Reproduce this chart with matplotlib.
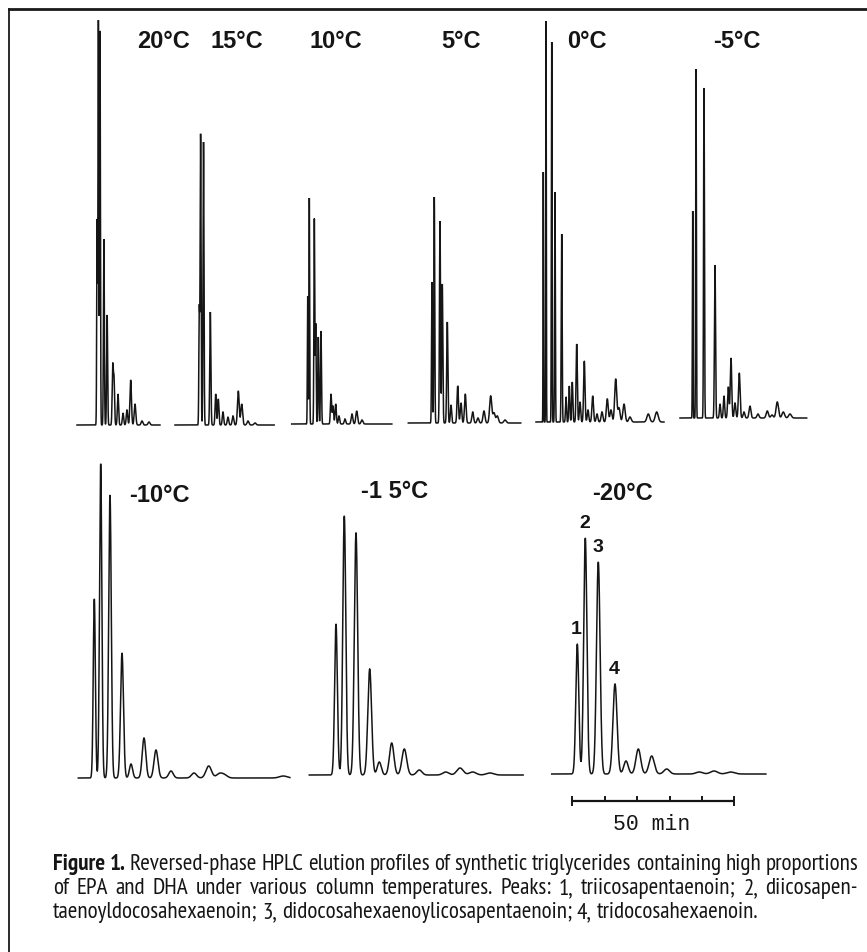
import numpy as np
import matplotlib
matplotlib.use("Agg")
import matplotlib.pyplot as plt
from matplotlib import font_manager as fm
from matplotlib.lines import Line2D

# ---------------- data ----------------
TEMPS = ["20°C", "15°C", "10°C", "5°C", "0°C", "-5°C", "-10°C", "-1 5°C", "-20°C"]
RUN_MIN = [25.6, 30.6, 30.9, 34.7, 39.5, 39.1, 65.3, 66.0, 66.1]   # recorded length, min

# retention time (min) and peak height (arbitrary response units)
RT_20 = [6.2, 6.6, 7.1, 8.3, 9.3, 11.02, 11.42, 12.65, 14.2, 15.43, 16.57, 17.9, 20.06, 22.22]
H_20 = [204, 404, 394, 186, 110, 58, 46, 31, 12, 15, 45, 21, 4, 3]

RT_15 = [7.5, 7.9, 8.8, 10.9, 12.56, 13.36, 14.81, 16.36, 17.9, 19.54, 20.59, 22.53, 24.7]
H_15 = [116, 290, 283, 113, 31, 26, 13, 8, 9, 34, 21, 4, 2]

RT_10 = [4.94, 5.43, 6.98, 7.41, 8.21, 9.04, 12.13, 12.75, 13.58, 14.6, 16.45, 18.61, 20.06, 21.7]
H_10 = [128, 226, 205, 100, 87, 93, 30, 18, 20, 8, 5, 10, 13, 4]

RT_5 = [7.31, 8.02, 9.78, 10.49, 12.04, 13.18, 15.25, 16.27, 17.59, 19.88, 21.51, 23.36, 25.43,
        26.45, 27.47, 29.85]
H_5 = [141, 226, 202, 139, 101, 18, 37, 20, 29, 11, 5, 12, 27, 10, 7, 3]

RT_0 = [2.25, 3.09, 4.85, 5.86, 7.93, 9.26, 10.28, 11.2, 12.56, 13.58, 14.91, 16.05, 17.5, 18.83,
        20.37, 22.01, 23.15, 24.6, 25.62, 27.16, 29.01, 34.66, 37.25]
H_0 = [250, 401, 380, 230, 188, 25, 36, 40, 78, 20, 61, 12, 26, 8, 10, 23, 12, 43, 14, 18, 5, 8, 10]

RT_M5 = [3.92, 4.94, 7.41, 10.8, 12.35, 13.58, 14.91, 15.74, 16.98, 18.3, 19.75, 21.6, 24.07,
         26.94, 28.4, 30.03, 31.88, 33.95]
H_M5 = [207, 349, 330, 153, 14, 22, 31, 60, 15, 45, 6, 12, 4, 7, 3, 16, 6, 4]

RT_M10 = [4.94, 6.91, 9.78, 13.49, 16.27, 20.28, 23.98, 28.61, 35.71, 40.25, 43.52, 45.06, 63.27]
H_M10 = [179, 314, 283, 125, 14, 40, 28, 7, 5, 12, 4, 3, 2]

RT_M15 = [8.24, 10.8, 14.41, 18.64, 21.6, 25.43, 29.32, 33.95, 42.1, 46.51, 50.43, 55.77]
H_M15 = [151, 259, 242, 106, 13, 32, 26, 5, 3, 7, 3, 2]

RT_M20 = [7.9, 10.37, 14.38, 19.54, 22.93, 26.73, 30.86, 35.49, 45.56, 50.09, 55.25]
H_M20 = [130, 236, 212, 90, 13, 25, 18, 5, 2, 3, 2]

PEAK_NUMBERS = ["1", "2", "3", "4"]          # labels of the first four peaks at -20°C
SCALE_START_MIN = 6.36
SCALE_LEN_MIN = 50
SCALE_TICK_MIN = 10
SCALE_LABEL = "50 min"

CAPTION_LINES = [
    [("Figure 1.", "bold"), ("Reversed-phase HPLC elution profiles of synthetic triglycerides containing high proportions", "normal")],
    [("of EPA and DHA under various column temperatures. Peaks: 1, triicosapentaenoin; 2, diicosapen-", "normal")],
    [("taenoyldocosahexaenoin; 3, didocosahexaenoylicosapentaenoin; 4, tridocosahexaenoin.", "normal")],
]

RT = [RT_20, RT_15, RT_10, RT_5, RT_0, RT_M5, RT_M10, RT_M15, RT_M20]
HT = [H_20, H_15, H_10, H_5, H_0, H_M5, H_M10, H_M15, H_M20]

# ---------------- layout / style ----------------
W, H = 867, 953
PX_PER_MIN = 3.24
PANEL_X0 = [77, 175, 291.7, 408.3, 536, 680, 78.3, 309.3, 551.7]
PANEL_BASE = [426, 426, 425, 424, 423, 419, 779, 776, 775]
PANEL_TOP = [12] * 6 + [455] * 3
LABEL_POS = [(163.7, 42), (236.7, 42), (335.5, 42), (461, 42), (587, 42), (736.8, 42),
             (159, 496), (395, 492), (622.5, 493)]
# peak width (sigma, min) = s0 + k * t
SIGMA = [(0.05, 0.011)] * 6 + [(0.25, 0.015), (0.30, 0.015), (0.34, 0.015)]
INK = "#151515"

available = {f.name for f in fm.fontManager.ttflist}


def pick(cands):
    for c in cands:
        if c in available:
            return c
    return "DejaVu Sans"


LABEL_FONT = pick(["Liberation Sans", "DejaVu Sans"])
CAP_FONT = pick(["PT Sans Narrow", "Fira Sans Condensed", "Open Sans Condensed", "Liberation Sans"])
MONO_FONT = pick(["Liberation Mono", "DejaVu Sans Mono"])
label_size = 17

fig = plt.figure(figsize=(W / 100, H / 100), dpi=100)
fig.patch.set_facecolor("white")

axes = []
for i in range(9):
    x0, base, top = PANEL_X0[i], PANEL_BASE[i], PANEL_TOP[i]
    wpx = RUN_MIN[i] * PX_PER_MIN
    ax = fig.add_axes([x0 / W, 1 - base / H, wpx / W, (base - top) / H])
    ax.set_xlim(0, RUN_MIN[i])
    ax.set_ylim(0, base - top)
    ax.axis("off")
    t = np.linspace(0, RUN_MIN[i], 8000)
    y = np.zeros_like(t)
    s0, k = SIGMA[i]
    for rt, h in zip(RT[i], HT[i]):
        s = s0 + k * rt
        y += h * np.exp(-0.5 * ((t - rt) / s) ** 2)
    ax.plot(t, y, color=INK, lw=1.1, solid_joinstyle="miter", clip_on=False)
    axes.append(ax)
    lx, ly = LABEL_POS[i]
    fig.text(lx / W, 1 - ly / H, TEMPS[i], ha="center", va="center",
             fontsize=label_size, fontweight="bold", family=LABEL_FONT, color=INK)

# peak numbers on the -20°C trace
ax20 = axes[8]
for lab, rt, h in zip(PEAK_NUMBERS, RT_M20, H_M20):
    ax20.annotate(lab, xy=(rt, h), xytext=(-0.5, 11), textcoords="offset points",
                  ha="center", va="center", fontsize=14,
                  fontweight="bold", family=LABEL_FONT, color=INK)

# time scale bar under the -20°C trace
ybar = -27
ax20.plot([SCALE_START_MIN, SCALE_START_MIN + SCALE_LEN_MIN], [ybar, ybar],
          color=INK, lw=1.6, clip_on=False, solid_capstyle="butt")
for j in range(SCALE_LEN_MIN // SCALE_TICK_MIN + 1):
    tx = SCALE_START_MIN + j * SCALE_TICK_MIN
    end = j in (0, SCALE_LEN_MIN // SCALE_TICK_MIN)
    ax20.plot([tx, tx], [ybar - (4 if end else 0), ybar + 4], color=INK,
              lw=1.4, clip_on=False)
ax20.text(SCALE_START_MIN + SCALE_LEN_MIN / 2 - 0.6, ybar - 23, SCALE_LABEL,
          ha="center", va="center", fontsize=15.5, family=MONO_FONT, color=INK)

# frame lines
fig.add_artist(Line2D([9 / W, 1], [1 - 10 / H, 1 - 10 / H], transform=fig.transFigure,
                      color="#1a1a1a", lw=2.0))
fig.add_artist(Line2D([9 / W, 9 / W], [1 - 10 / H, 0], transform=fig.transFigure,
                      color="#1a1a1a", lw=1.3))

# caption
renderer = fig.canvas.get_renderer()


def measure(s, size, weight):
    tt = fig.text(0, 0, s, fontsize=size, fontweight=weight, family=CAP_FONT)
    w = tt.get_window_extent(renderer).width
    tt.remove()
    return w


CAP_X0, CAP_X1 = 53, 858
base_size = 12.0
space_w = measure("a b", base_size, "normal") - measure("ab", base_size, "normal")
w1 = 0
n1 = 0
for seg, wt in CAPTION_LINES[0]:
    for wd in seg.split(" "):
        w1 += measure(wd, base_size, wt)
        n1 += 1
w1 += space_w * (n1 - 1)
cap_size = base_size * (CAP_X1 - CAP_X0) / w1
CAP_BASELINES = [870, 894, 918]

for li, line in enumerate(CAPTION_LINES):
    words = []
    for seg, wt in line:
        for wd in seg.split(" "):
            words.append((wd, wt))
    widths = [measure(wd, cap_size, wt) for wd, wt in words]
    nat_gap = measure("a b", cap_size, "normal") - measure("ab", cap_size, "normal")
    if li < 2:
        gap = (CAP_X1 - CAP_X0 - sum(widths)) / (len(words) - 1)
    else:
        gap = nat_gap
    x = CAP_X0
    for (wd, wt), wdt in zip(words, widths):
        fig.text(x / W, 1 - CAP_BASELINES[li] / H, wd, fontsize=cap_size, fontweight=wt,
                 family=CAP_FONT, va="baseline", ha="left", color=INK)
        x += wdt + gap

fig.savefig("out.png", dpi=100, facecolor="white")
